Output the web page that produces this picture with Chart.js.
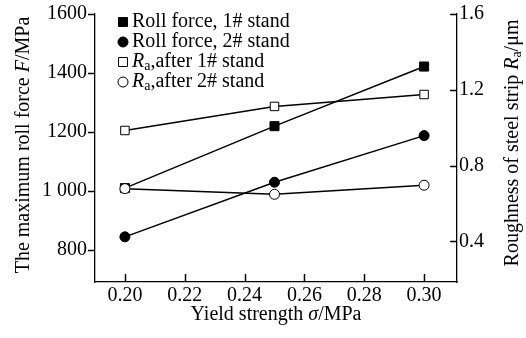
<!DOCTYPE html>
<html>
<head>
<meta charset="utf-8">
<script src="https://cdn.jsdelivr.net/npm/chart.js@4/dist/chart.umd.min.js"></script>
<style>
  html, body { margin: 0; padding: 0; background: #fff; }
  #wrap { width: 526px; height: 338px; }
</style>
</head>
<body>
<div id="wrap"><canvas id="rollChart" width="526" height="338"></canvas></div>
<script>
// Yield strength vs roll force / roughness
var yieldStrength = [0.20, 0.25, 0.30];
var rollForce1 = [1010, 1220, 1422];
var rollForce2 = [845, 1030, 1188];
var raAfter1 = [0.985, 1.112, 1.175];
var raAfter2 = [0.678, 0.648, 0.696];

var xTicks = [0.20, 0.22, 0.24, 0.26, 0.28, 0.30];
var forceTicks = [800, 1000, 1200, 1400, 1600];
var forceLabels = ["800", "1 000", "1200", "1400", "1600"];
var roughTicks = [0.4, 0.8, 1.2, 1.6];

var serif = "'Liberation Serif', 'Times New Roman', serif";

function pts(xs, ys) {
    return xs.map(function (x, i) { return { x: x, y: ys[i] }; });
}

// text made of pieces (italic letters, subscripts)
function pieces(ctx, segs, cx, cy) {
    var total = 0;
    segs.forEach(function (s) {
        ctx.font = (s.italic ? "italic " : "") + (s.size || 20) + "px " + serif;
        s.w = ctx.measureText(s.t).width;
        total += s.w;
    });
    var x = cx - total / 2;
    ctx.textAlign = "left";
    ctx.textBaseline = "middle";
    segs.forEach(function (s) {
        ctx.font = (s.italic ? "italic " : "") + (s.size || 20) + "px " + serif;
        ctx.fillText(s.t, x, cy + (s.dy || 0));
        x += s.w;
    });
}

function marker(ctx, kind, x, y) {
    ctx.save();
    ctx.lineWidth = 1;
    ctx.strokeStyle = "#000";
    ctx.fillStyle = kind.indexOf("open") === 0 ? "#fff" : "#000";
    ctx.beginPath();
    if (kind.indexOf("Rect") > 0) {
        ctx.rect(x - 4.5, y - 4.5, 9, 9);
    } else {
        ctx.arc(x, y, 5, 0, Math.PI * 2);
    }
    ctx.fill();
    ctx.stroke();
    ctx.restore();
}

var extras = {
    id: "extras",
    afterDraw: function (chart) {
        var ctx = chart.ctx;
        var a = chart.chartArea;
        var xs = chart.scales.x;
        var yr = chart.scales.y1;
        ctx.save();
        ctx.strokeStyle = "#000";
        ctx.lineWidth = 1.5;
        ctx.beginPath();
        // x ticks point up into the plot, right axis ticks point left
        xTicks.forEach(function (v) {
            var px = Math.round(xs.getPixelForValue(v)) + 0.5;
            ctx.moveTo(px, a.bottom);
            ctx.lineTo(px, a.bottom - 8);
        });
        roughTicks.forEach(function (v) {
            var py = Math.round(yr.getPixelForValue(v)) + 0.5;
            ctx.moveTo(a.right, py);
            ctx.lineTo(a.right - 7, py);
        });
        ctx.stroke();

        ctx.fillStyle = "#000";
        // legend
        var rows = [
            { kind: "fillRect", segs: [{ t: "Roll force, 1# stand" }] },
            { kind: "fillCircle", segs: [{ t: "Roll force, 2# stand" }] },
            { kind: "openRect", segs: [{ t: "R", italic: true }, { t: "a", size: 14, dy: 4 }, { t: ",after 1# stand" }] },
            { kind: "openCircle", segs: [{ t: "R", italic: true }, { t: "a", size: 14, dy: 4 }, { t: ",after 2# stand" }] }
        ];
        rows.forEach(function (r, i) {
            var y = 22 + i * 20;
            marker(ctx, r.kind, 123, y);
            var x = 132;
            ctx.fillStyle = "#000";
            ctx.textAlign = "left";
            ctx.textBaseline = "middle";
            r.segs.forEach(function (s) {
                ctx.font = (s.italic ? "italic " : "") + (s.size || 20) + "px " + serif;
                ctx.fillText(s.t, x, y + (s.dy || 0));
                x += ctx.measureText(s.t).width;
            });
        });

        // axis titles
        pieces(ctx, [{ t: "Yield strength " }, { t: "σ", italic: true }, { t: "/MPa" }], 276, 315);

        ctx.save();
        ctx.translate(24, 145);
        ctx.rotate(-Math.PI / 2);
        pieces(ctx, [{ t: "The maximum roll force " }, { t: "F", italic: true }, { t: "/MPa" }], 0, 0);
        ctx.restore();

        ctx.save();
        ctx.translate(513, 143);
        ctx.rotate(-Math.PI / 2);
        pieces(ctx, [{ t: "Roughness of steel strip " }, { t: "R", italic: true }, { t: "a", size: 14, dy: 4 }, { t: "/μm" }], 0, 0);
        ctx.restore();
        ctx.restore();
    }
};

var line = { borderColor: "#000", borderWidth: 1.5, pointBorderColor: "#000", pointBorderWidth: 1 };

new Chart("rollChart", {
    type: "line",
    plugins: [extras],
    data: {
        datasets: [
            Object.assign({ label: "Roll force, 1# stand", data: pts(yieldStrength, rollForce1), yAxisID: "y",
                pointStyle: "rect", pointRadius: 6.4, pointBackgroundColor: "#000", order: 2 }, line),
            Object.assign({ label: "Roll force, 2# stand", data: pts(yieldStrength, rollForce2), yAxisID: "y",
                pointStyle: "circle", pointRadius: 5, pointBackgroundColor: "#000", order: 2 }, line),
            Object.assign({ label: "Ra,after 1# stand", data: pts(yieldStrength, raAfter1), yAxisID: "y1",
                pointStyle: "rect", pointRadius: 6, pointBackgroundColor: "#fff", order: 1 }, line),
            Object.assign({ label: "Ra,after 2# stand", data: pts(yieldStrength, raAfter2), yAxisID: "y1",
                pointStyle: "circle", pointRadius: 5, pointBackgroundColor: "#fff", order: 0 }, line)
        ]
    },
    options: {
        responsive: false,
        animation: false,
        layout: { padding: { top: 14, left: 0, right: 0, bottom: 0 } },
        plugins: { legend: { display: false }, tooltip: { enabled: false } },
        scales: {
            x: {
                type: "linear",
                min: 0.19,
                max: 0.311,
                afterBuildTicks: function (s) { s.ticks = xTicks.map(function (v) { return { value: v }; }); },
                afterFit: function (s) { s.height = 56; },
                grid: { display: false, drawTicks: false },
                border: { display: true, color: "#000", width: 1.3 },
                ticks: {
                    color: "#000", padding: 2, maxRotation: 0, autoSkip: false,
                    font: { family: serif, size: 20 },
                    callback: function (v) { return Number(v).toFixed(2); }
                }
            },
            y: {
                position: "left",
                min: 692,
                max: 1600,
                afterBuildTicks: function (s) { s.ticks = forceTicks.map(function (v) { return { value: v }; }); },
                afterFit: function (s) { s.width = 95; },
                grid: { display: true, drawOnChartArea: false, drawTicks: true, tickLength: 7, color: "#000", tickColor: "#000", tickWidth: 1.5 },
                border: { display: true, color: "#000", width: 1.3 },
                ticks: {
                    color: "#000", padding: 1, autoSkip: false,
                    font: { family: serif, size: 20 },
                    callback: function (v) { return forceLabels[forceTicks.indexOf(v)]; }
                }
            },
            y1: {
                position: "right",
                min: 0.185,
                max: 1.6,
                afterBuildTicks: function (s) { s.ticks = roughTicks.map(function (v) { return { value: v }; }); },
                afterFit: function (s) { s.width = 69; },
                grid: { display: false, drawTicks: false },
                border: { display: true, color: "#000", width: 1.3 },
                ticks: {
                    color: "#000", padding: 2, autoSkip: false,
                    font: { family: serif, size: 20 },
                    callback: function (v) { return Number(v).toFixed(1); }
                }
            }
        }
    }
});
</script>
</body>
</html>
